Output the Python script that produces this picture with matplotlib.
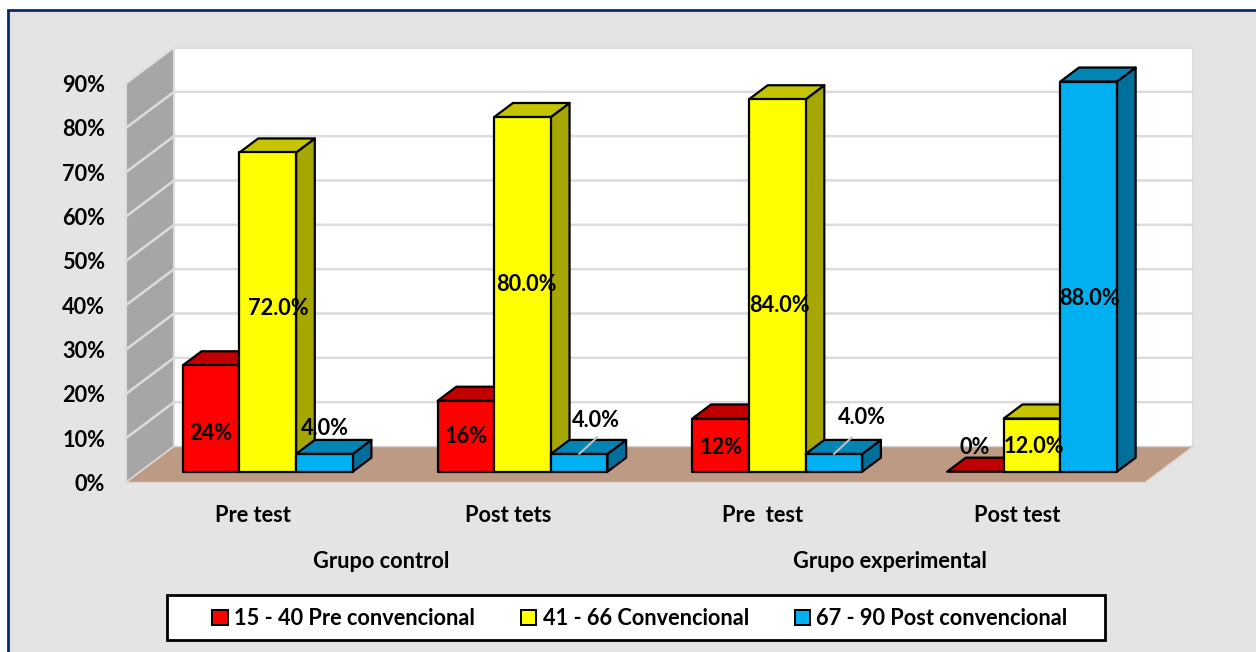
import matplotlib
matplotlib.use("Agg")
import matplotlib.pyplot as plt
from matplotlib.patches import Polygon, Patch, Rectangle

# ---- datos ----
test_labels = ["Pre test", "Post tets", "Pre  test", "Post test"]
group_labels = ["Grupo control", "Grupo experimental"]
series_names = ["15 - 40 Pre convencional", "41 - 66 Convencional", "67 - 90 Post convencional"]
pre_conv = [24, 16, 12, 0]
conv = [72, 80, 84, 12]
post_conv = [4, 4, 4, 88]
pre_conv_txt = ["24%", "16%", "12%", "0%"]
conv_txt = ["72.0%", "80.0%", "84.0%", "12.0%"]
post_conv_txt = ["4.0%", "4.0%", "4.0%", "88.0%"]
y_ticks = [0, 10, 20, 30, 40, 50, 60, 70, 80, 90]

# ---- estilo ----
W, H = 1256, 652
FONT = "Lato"
FS = 15.7
colores = [("#FF0000", "#C00000", "#A80000"),
           ("#FFFF00", "#C4C400", "#A6A600"),
           ("#00B0F0", "#0085B5", "#006F9B")]
# desplazamiento de cada etiqueta (px) desde el centro de la barra
offs = [[(0, -15), (0, 0), (1, -2), (-1, 24)],
        [(11, 4), (4, 10), (2, -20), (2, -1)],
        [(1, 34), (17, 42), (28, 45), (1, -22)]]

plt.rcParams["font.family"] = [FONT, "DejaVu Sans"]
plt.rcParams["font.weight"] = "bold"

fig = plt.figure(figsize=(W / 100, H / 100), dpi=100, facecolor="white")

# marco exterior
fig.add_artist(Rectangle((8 / W, -0.02), 1.02, (H - 10) / H + 0.02, transform=fig.transFigure,
                         facecolor="#E4E4E4", edgecolor="#0B2A6B", linewidth=2, zorder=-5))

ax = fig.add_axes([126 / W, (H - 482.5) / H, 1019 / W, 399 / H])
ax.set_xlim(0, 4)
ax.set_ylim(0, 90)
ax.patch.set_visible(False)
for s in ax.spines.values():
    s.set_visible(False)

# proyeccion falsa 3D
DX = 48 / (1019 / 4)
DY = 36 / (399 / 90)


def proj(x, y, t):
    return (x + t * DX, y + t * DY)


def poly(pts, fc, ec="none", lw=0, z=1):
    ax.add_patch(Polygon(pts, closed=True, facecolor=fc, edgecolor=ec, linewidth=lw,
                         zorder=z, clip_on=False, joinstyle="round"))


# paredes y piso
poly([proj(0, 0, 1), proj(4, 0, 1), proj(4, 90, 1), proj(0, 90, 1)], "white", "#DEDEDE", 1.5)
poly([proj(0, 0, 0), proj(0, 0, 1), proj(0, 90, 1), proj(0, 90, 0)], "#A6A6A6", "#DEDEDE", 1.5)
poly([proj(0, 0, 0), proj(4, 0, 0), proj(4, 0, 1), proj(0, 0, 1)], "#BC9A84", "#DDD5D0", 1)
for v in y_ticks[1:-1]:
    a, b, c = proj(0, v, 0), proj(0, v, 1), proj(4, v, 1)
    ax.plot([a[0], b[0], c[0]], [a[1], b[1], c[1]], color="#DCDCDC", lw=1.8, zorder=1.5, clip_on=False)

# barras
T0 = 0.3
TD = 0.39
BW = 56.6 / (1019 / 4)
valores = [pre_conv, conv, post_conv]
textos = [pre_conv_txt, conv_txt, post_conv_txt]
z = 2
for i in range(4):
    for k in range(3):
        v = valores[k][i]
        x0 = i + 0.5 - 1.5 * BW + k * BW
        x1 = x0 + BW
        front, top, side = colores[k]
        z += 1
        poly([proj(x1, 0, T0), proj(x1, 0, T0 + TD), proj(x1, v, T0 + TD), proj(x1, v, T0)], side, "black", 1.6, z)
        poly([proj(x0, v, T0), proj(x1, v, T0), proj(x1, v, T0 + TD), proj(x0, v, T0 + TD)], top, "black", 1.6, z)
        if v > 0:
            poly([proj(x0, 0, T0), proj(x1, 0, T0), proj(x1, v, T0), proj(x0, v, T0)], front, "black", 1.6, z)

# etiquetas
for i in range(4):
    for k in range(3):
        v = valores[k][i]
        x0 = i + 0.5 - 1.5 * BW + k * BW + BW / 2
        ax.annotate(textos[k][i], xy=proj(x0, v / 2, T0), xytext=(offs[k][i][0] * 0.72, offs[k][i][1] * 0.72),
                    textcoords="offset points", ha="center", va="center", fontsize=FS, fontweight="bold",
                    color="black", zorder=50, annotation_clip=False)

# lineas guia de los 4.0%
for i in [1, 2]:
    x0 = i + 0.5 - 1.5 * BW + 2 * BW + BW / 2
    p = proj(x0, post_conv[i], T0)
    ax.annotate("", xy=p, xycoords="data", xytext=(13, 12), textcoords="offset points", zorder=49,
                annotation_clip=False,
                arrowprops=dict(arrowstyle="-", color="#BFBFBF", lw=1.5, shrinkA=0, shrinkB=0))

# ejes
ax.set_yticks(y_ticks)
ax.set_yticklabels(["%d%%" % v for v in y_ticks], fontsize=FS, fontweight="bold")
for lab in ax.get_yticklabels():
    lab.set_va("center_baseline")
ax.set_xticks([0.5, 1.5, 2.5, 3.5])
ax.set_xticklabels(test_labels, fontsize=FS, fontweight="bold")
ax.tick_params(axis="y", length=0, pad=15)
ax.tick_params(axis="x", length=0, pad=16.5)

trans = ax.get_xaxis_transform()
ax.text(1, -79.5 / 399, group_labels[0], transform=trans, ha="center", va="center", fontsize=FS, fontweight="bold")
ax.text(3, -79.5 / 399, group_labels[1], transform=trans, ha="center", va="center", fontsize=FS, fontweight="bold")

# leyenda
fig.add_artist(Rectangle((167 / W, (H - 640) / H), 938 / W, 45 / H, transform=fig.transFigure,
                         facecolor="white", edgecolor="black", linewidth=2, zorder=2))
handles = [Patch(facecolor=c[0], edgecolor="black", linewidth=1.4) for c in colores]
leg = fig.legend(handles, series_names, ncol=3, loc="center",
                 bbox_to_anchor=(640 / W, (H - 618.5) / H),
                 fontsize=FS, frameon=False, handlelength=0.7, handleheight=0.7, handletextpad=0.3,
                 borderaxespad=0, borderpad=0, columnspacing=2.1)
leg.set_zorder(3)

fig.savefig("out.png", dpi=100)
